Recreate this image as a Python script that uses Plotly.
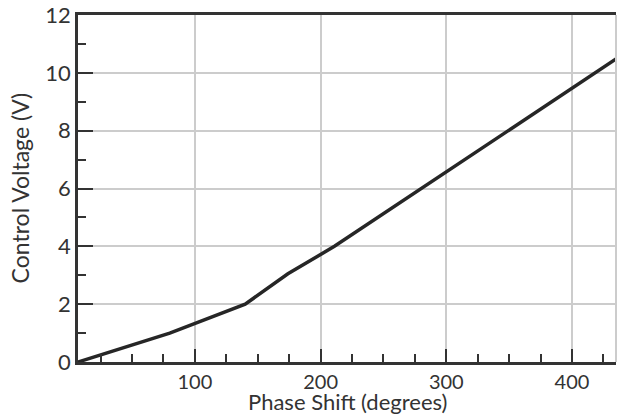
import plotly.graph_objects as go

phase_deg = [7, 80, 140, 174, 211, 435]
voltage_v = [0, 1.0, 2.0, 3.05, 4.0, 10.48]

x_ticks = [100, 200, 300, 400]
y_ticks = [0, 2, 4, 6, 8, 10, 12]

fig = go.Figure()
fig.add_trace(go.Scatter(x=phase_deg, y=voltage_v, mode="lines",
                         line=dict(color="#262626", width=3.5), showlegend=False,
                         cliponaxis=False))

font = dict(family="Lato, sans-serif", size=22, color="#333333")
yfont = dict(family="Lato, sans-serif", size=23, color="#333333")
xtfont = dict(family="Lato, sans-serif", size=20, color="#333333")
ytfont = dict(family="Lato, sans-serif", size=22, color="#333333")

fig.update_layout(
    width=617, height=417,
    margin=dict(l=78, r=1, t=15, b=55),
    paper_bgcolor="white", plot_bgcolor="white",
    font=font,
    xaxis=dict(
        range=[7, 435], tickvals=x_ticks, ticks="inside", ticklen=13, tickwidth=2,
        tickcolor="#333333", showline=True, linecolor="#333333", linewidth=2.5,
        mirror=True, showgrid=True, gridcolor="#cccccc", gridwidth=2,
        minor=dict(ticks="inside", ticklen=8, tickwidth=2, tickcolor="#333333",
                   dtick=25, tick0=0, showgrid=False),
        tickfont=xtfont, zeroline=False, ticklabeloverflow="allow",
    ),
    yaxis=dict(
        range=[0, 12], tickvals=y_ticks, ticks="inside", ticklen=15, tickwidth=2,
        tickcolor="#333333", showline=True, linecolor="#333333", linewidth=2.5,
        showgrid=True, gridcolor="#cccccc", gridwidth=2,
        minor=dict(ticks="inside", ticklen=8, tickwidth=2, tickcolor="#333333",
                   dtick=1, tick0=0, showgrid=False),
        tickfont=ytfont, zeroline=False, ticklabeloverflow="allow",
    ),
)
fig.add_annotation(text="Phase Shift (degrees)", xref="paper", yref="paper",
                   x=0.5, y=-0.1585, xanchor="center", yanchor="bottom",
                   showarrow=False, font=font)
fig.add_annotation(text="Control Voltage (V)", xref="paper", yref="paper",
                   x=-0.108, y=0.5, xanchor="center", yanchor="middle",
                   textangle=-90, showarrow=False, font=yfont)
fig.add_shape(type="line", xref="paper", yref="paper", x0=1, x1=1, y0=0, y1=1,
              line=dict(color="#cccccc", width=2))

fig.write_html("out.html")
